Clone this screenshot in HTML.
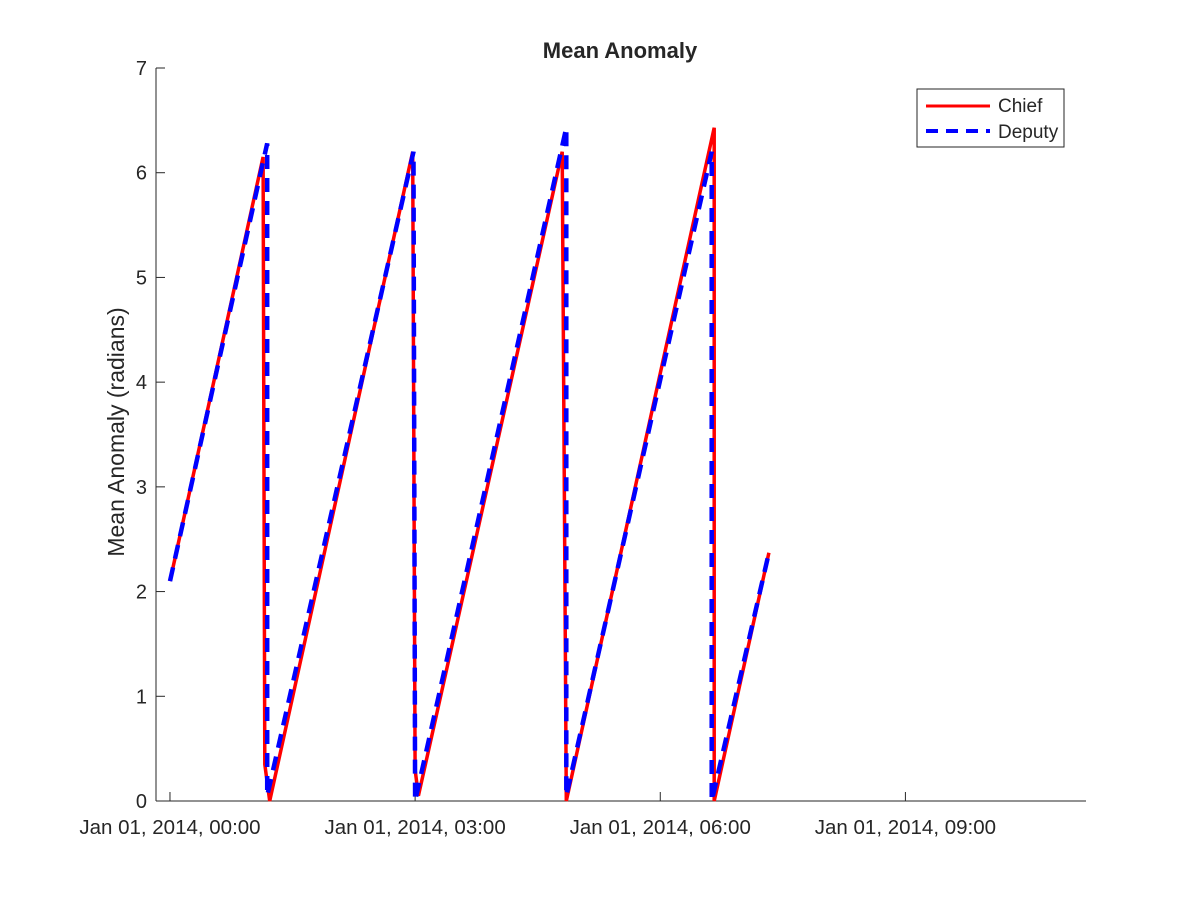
<!DOCTYPE html>
<html><head><meta charset="utf-8"><style>
body{margin:0;background:#fff;}
svg text{font-family:"Liberation Sans",Arial,sans-serif;fill:#262626;}
</style></head><body>
<svg width="1200" height="900" xmlns="http://www.w3.org/2000/svg">
<rect width="1200" height="900" fill="#fff"/>
<g id="axes"></g>
<g id="series"></g>
<text x="620" y="58" text-anchor="middle" font-size="22" font-weight="bold" fill="#000">Mean Anomaly</text>
<text transform="translate(124,432) rotate(-90)" text-anchor="middle" font-size="23">Mean Anomaly (radians)</text>
<g>
<rect x="917" y="89" width="147" height="58" fill="#fff" stroke="#262626" stroke-width="1"/>
<line x1="926" y1="106" x2="990" y2="106" stroke="#f00" stroke-width="3"/>
<text x="998" y="112" font-size="19" fill="#000">Chief</text>
<line x1="926" y1="131" x2="990" y2="131" stroke="#00f" stroke-width="4" stroke-dasharray="12,8"/>
<text x="998" y="138" font-size="19" fill="#000">Deputy</text>
</g>
</svg>
<script>
const chiefT=[0,1.14,1.16,1.22,2.97,3.0,3.04,4.80,4.85,6.66,6.66,7.33];
const chiefM=[2.1,6.15,0.35,0.0,6.2,0.3,0.05,6.2,0.0,6.43,0.0,2.37];
const deputyT=[0,1.19,1.19,2.98,3.0,4.85,4.85,6.63,6.63,7.33];
const deputyM=[2.1,6.28,0.05,6.2,0.0,6.43,0.05,6.2,0.0,2.37];
const yTicks=[0,1,2,3,4,5,6,7];
const xTicks=[0,3,6,9];
const xTickLabels=["Jan 01, 2014, 00:00","Jan 01, 2014, 03:00","Jan 01, 2014, 06:00","Jan 01, 2014, 09:00"];
const NS="http://www.w3.org/2000/svg";
const X0=156,X1=1086,Y0=801,Y1=68;
const tMin=-0.171,tMax=11.21;
function sx(t){return X0+(t-tMin)/(tMax-tMin)*(X1-X0);}
function sy(v){return Y0-(v/7)*(Y0-Y1);}
function mk(tag,attrs,parent){const e=document.createElementNS(NS,tag);for(const k in attrs)e.setAttribute(k,attrs[k]);parent.appendChild(e);return e;}
const ax=document.getElementById('axes');
let l=mk('line',{x1:X0,y1:Y0,x2:X1,y2:Y0,stroke:'#262626','stroke-width':1},ax);


l=mk('line',{x1:X0,y1:Y0,x2:X0,y2:Y1,stroke:'#262626','stroke-width':1},ax);


yTicks.forEach(v=>{const y=sy(v);
 mk('line',{x1:X0,y1:y,x2:X0+9,y2:y,stroke:'#262626'},ax);
 const t=mk('text',{x:X0-9,y:y+7,'text-anchor':'end','font-size':20},ax);t.textContent=v;
 
 });
xTicks.forEach((v,i)=>{const x=sx(v);
 mk('line',{x1:x,y1:Y0,x2:x,y2:Y0-9,stroke:'#262626'},ax);
 const t=mk('text',{x:x,y:Y0+33,'text-anchor':'middle','font-size':20.5},ax);t.textContent=xTickLabels[i];
 
 });
const sg=document.getElementById('series');
function pts(T,M){return T.map((t,i)=>sx(t).toFixed(1)+','+sy(M[i]).toFixed(1)).join(' ');}
const c=mk('polyline',{points:pts(chiefT,chiefM),fill:'none',stroke:'#f00','stroke-width':3.5,'stroke-linejoin':'miter'},sg);


const d=mk('polyline',{points:pts(deputyT,deputyM),fill:'none',stroke:'#00f','stroke-width':4.5,'stroke-dasharray':'14,9'},sg);


</script>
</body></html>
